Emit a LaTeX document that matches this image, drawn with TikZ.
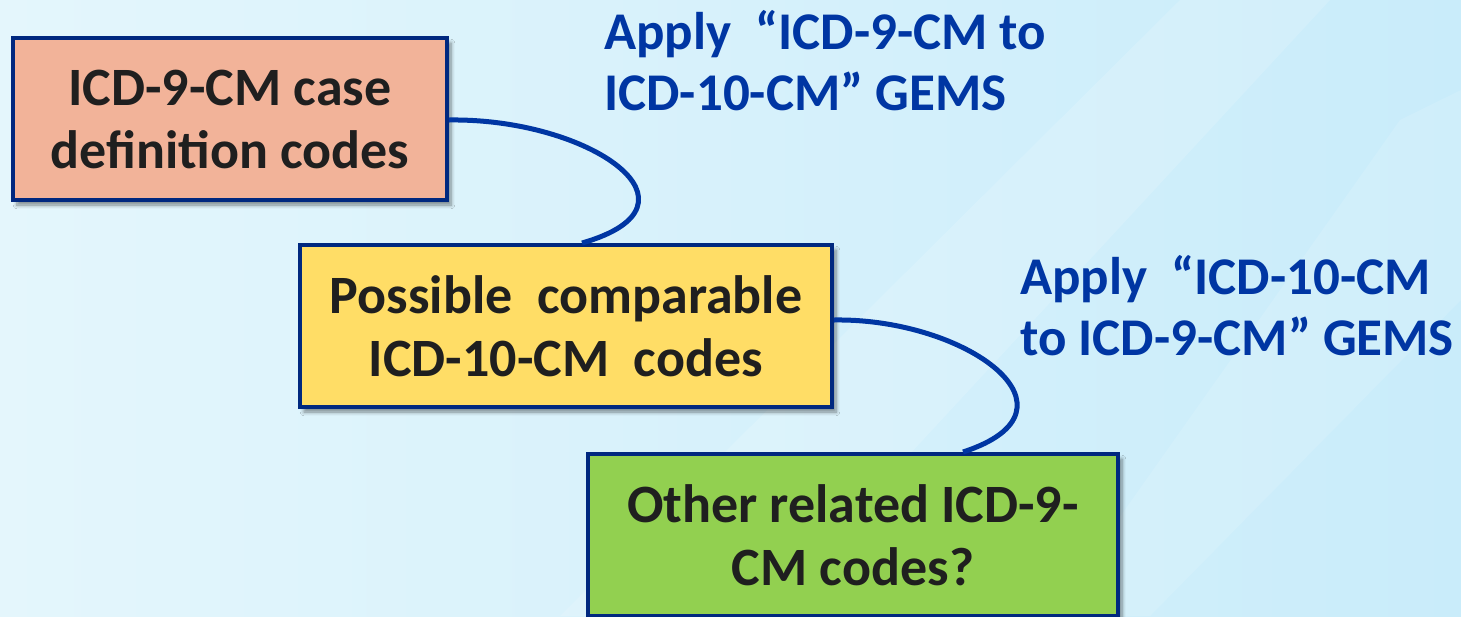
\documentclass[tikz,border=0pt]{standalone}
\usepackage{fontspec}
\setmainfont{Carlito}
\usepackage{tikz}
\usetikzlibrary{calc, shadows.blur}
\definecolor{navy}{HTML}{00287F}
\definecolor{linkblue}{HTML}{0036A3}
\definecolor{salmon}{HTML}{F2B399}
\definecolor{sun}{HTML}{FFDD66}
\definecolor{leaf}{HTML}{92D050}
\definecolor{skyleft}{HTML}{E4F6FC}
\definecolor{skyright}{HTML}{C9ECFA}
\tikzset{codebox/.style={
    draw=navy, line width=2pt, inner sep=0pt, align=center,
    minimum width=#1, minimum height=81pt,
    font=\fontsize{27}{31.5}\selectfont\bfseries, text=black!88,
    blur shadow={shadow xshift=2pt, shadow yshift=-2.5pt,
      shadow blur steps=6, shadow opacity=45}
  },
  gems/.style={anchor=north west, align=left, text=linkblue, inner sep=0pt,
    font=\fontsize{26.5}{30.5}\selectfont\bfseries},
  link/.style={draw=linkblue, line width=2.5pt}
}

\begin{document}
\begin{tikzpicture}[x=0.5pt, y=-0.5pt]
      % background
      \fill[left color=skyleft, right color=skyright] (0,0) rectangle (1461,616);
      \fill[white, opacity=.15] (1180,0) -- (1330,0) -- (760,616) -- (560,616) -- cycle;
      \fill[white, opacity=.12] (1400,120) -- (1461,90) -- (1461,300) -- (1150,616) -- (1050,616) -- cycle;
      \useasboundingbox (0,0) rectangle (1461,616);

      \node[codebox=217pt, fill=salmon] (icd9) at (230,119) {ICD-9-CM case\\definition codes};
      \node[codebox=266pt, fill=sun] (cmp) at (566,326) {Possible\ \ comparable\\ICD-10-CM\ \ codes};
      \node[codebox=265pt, fill=leaf] (oth) at (853,535) {Other related ICD-9-\\CM codes?};

      \node[gems] (gemsa) at (604,10) {Apply\ \ “ICD-9-CM to\\ICD-10-CM” GEMS};
      \node[gems] (gemsb) at (1020,255) {Apply\ \ “ICD-10-CM\\to ICD-9-CM” GEMS};

      \draw[link] ([yshift=-0.5pt]icd9.east) .. controls (590,118) and (715,205) .. ($(cmp.north)+(16,0)$);
      \draw[link] ([yshift=3pt]cmp.east) .. controls (967,318) and (1092,410) .. ($(oth.north)+(110,0)$);
    \end{tikzpicture}
\end{document}
